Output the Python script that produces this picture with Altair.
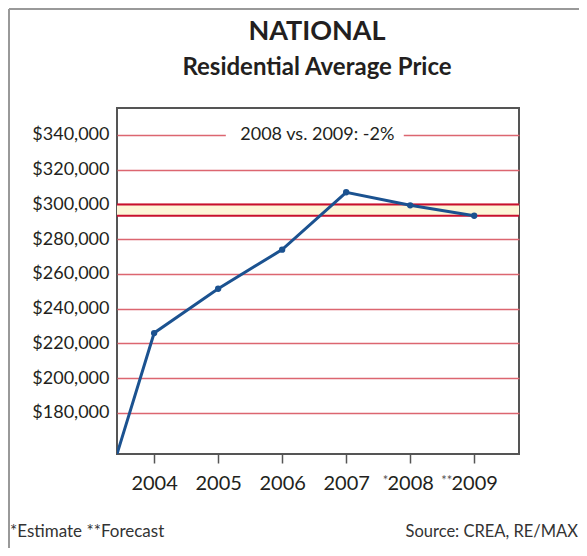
import altair as alt
import pandas as pd

# ---- data ----
years = [2003, 2004, 2005, 2006, 2007, 2008, 2009]
prices = [106000, 226000, 251500, 274000, 307000, 299500, 293500]
tick_years = [2004, 2005, 2006, 2007, 2008, 2009]
marked_years = [2008, 2009]
marks = ["*", "**"]
y_ticks = [180000, 200000, 220000, 240000, 260000, 280000, 300000, 320000, 340000]
band_low, band_high = 293500, 300000
annotation_text = "2008 vs. 2009: -2%"
annotation_year, annotation_value = 2006.55, 340000
annotation_gap = [2005.12, 2007.90]
title_text = "NATIONAL"
subtitle_text = "Residential Average Price"
footnote_text = "*Estimate **Forecast"
source_text = "Source: CREA, RE/MAX"

X_DOMAIN = [2003.42, 2009.70]
Y_DOMAIN = [156400, 355500]
FONT = "Lato"
INK = "#231f20"
LINE = "#1b5290"

df = pd.DataFrame({"year": years, "price": prices})
pts = df[df["year"] >= 2004]

xs = alt.Scale(domain=X_DOMAIN, nice=False, zero=False)
ys = alt.Scale(domain=Y_DOMAIN, nice=False, zero=False)
x_axis = alt.Axis(values=tick_years, format="d", grid=False, domain=False,
                  tickSize=9, tickColor="#555", tickWidth=1.5, labelPadding=10,
                  labelFontSize=20, labelFont=FONT, labelColor=INK, labelFlush=False)
y_axis = alt.Axis(values=y_ticks, format="$,d", grid=True, gridColor="#dc6670",
                  gridWidth=1.5, domain=False, ticks=False, labelPadding=8,
                  labelFontSize=18, labelFont=FONT, labelColor=INK)


def X(f):
    return alt.X(f, scale=xs, axis=x_axis, title=None)


def Y(f):
    return alt.Y(f, scale=ys, axis=y_axis, title=None)


band = alt.Chart(pd.DataFrame({"lo": [band_low], "hi": [band_high]})).mark_rect(
    color="#fdf6d8"
).encode(y=Y("lo:Q"), y2="hi:Q", x=alt.value(0), x2=alt.value(402))
band_lines = alt.Chart(pd.DataFrame({"v": [band_low, band_high]})).mark_rule(
    color="#c8102e", strokeWidth=2
).encode(y=Y("v:Q"))

gap = alt.Chart(pd.DataFrame({"a": [annotation_gap[0]], "b": [annotation_gap[1]],
                              "lo": [annotation_value - 3000], "hi": [annotation_value + 3000]})).mark_rect(
    color="white"
).encode(x=X("a:Q"), x2="b:Q", y=Y("lo:Q"), y2="hi:Q")
ann = alt.Chart(pd.DataFrame({"x": [annotation_year], "y": [annotation_value], "t": [annotation_text]})).mark_text(
    font=FONT, fontSize=18, color=INK, align="center", baseline="middle"
).encode(x=X("x:Q"), y=Y("y:Q"), text="t:N")

line = alt.Chart(df).mark_line(color=LINE, strokeWidth=3, clip=True).encode(
    x=X("year:Q"), y=Y("price:Q"))
dots = alt.Chart(pts).mark_circle(color=LINE, size=40, opacity=1).encode(
    x=X("year:Q"), y=Y("price:Q"))

stars = alt.Chart(pd.DataFrame({"year": marked_years, "m": marks})).mark_text(
    font=FONT, fontSize=13, color="#555555", align="right", baseline="top", dx=-22
).encode(x=X("year:Q"), y=alt.value(367), text="m:N")

one = pd.DataFrame({"a": [0]})
ttl = alt.Chart(one).mark_text(font=FONT, fontSize=27, fontWeight="bold", color=INK,
                               align="center", baseline="alphabetic", text=title_text).encode(
    x=alt.value(200), y=alt.value(-68))
sub = alt.Chart(one).mark_text(font=FONT, fontSize=24, fontWeight="bold", color=INK,
                               align="center", baseline="alphabetic", text=subtitle_text).encode(
    x=alt.value(200), y=alt.value(-33))
foot = alt.Chart(one).mark_text(font=FONT, fontSize=17, color="#333333", align="left",
                                baseline="middle", text=footnote_text).encode(
    x=alt.value(-107), y=alt.value(424))
src = alt.Chart(one).mark_text(font=FONT, fontSize=16.5, color="#333333", align="right",
                               baseline="middle", text=source_text).encode(
    x=alt.value(461), y=alt.value(424))
frame_top = alt.Chart(one).mark_rule(color="#999999", strokeWidth=2).encode(
    x=alt.value(-108), x2=alt.value(470), y=alt.value(-99))
frame_left = alt.Chart(one).mark_rule(color="#999999", strokeWidth=2).encode(
    x=alt.value(-108), y=alt.value(-99), y2=alt.value(440))

chart = alt.layer(
    band, band_lines, gap, ann, line, dots, stars, ttl, sub, foot, src, frame_top, frame_left
).properties(
    width=402, height=346,
    padding={"left": 109, "top": 100, "right": 60, "bottom": 94},
    autosize=alt.AutoSizeParams(type="none"),
).configure_view(stroke="#555555", strokeWidth=2)

chart.save("out.html", embed_options={"renderer": "svg", "actions": False})
